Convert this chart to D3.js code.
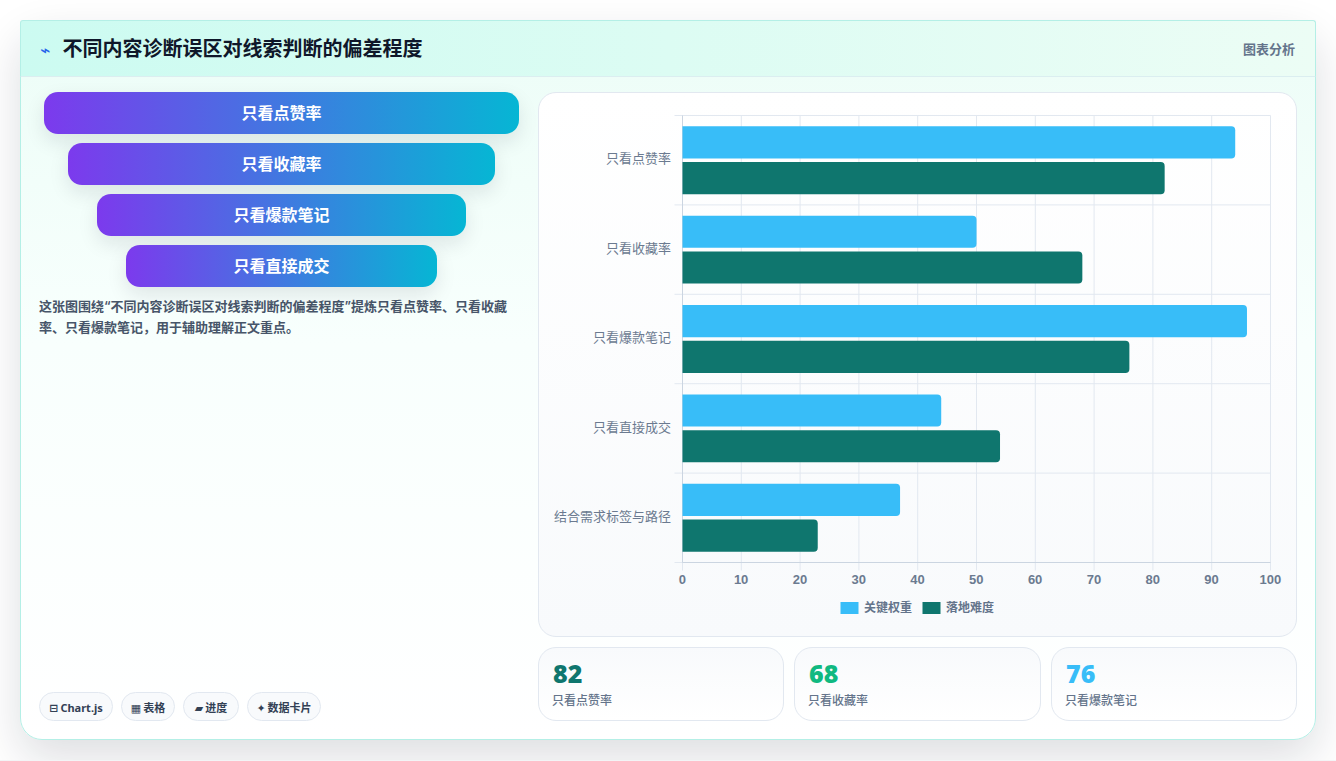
<!DOCTYPE html>
<html lang="zh">
<head>
<meta charset="utf-8">
<title>不同内容诊断误区对线索判断的偏差程度</title>
<script src="https://cdn.jsdelivr.net/npm/d3@7/dist/d3.min.js"></script>
<style>
  * { box-sizing: border-box; }
  html, body { margin: 0; width: 1336px; height: 761px; overflow: hidden; background: #f3f4f6; }
  body { font-family: "Noto Sans", "Noto Sans CJK SC", sans-serif; }
  .page { position: absolute; left: 0; top: 0; width: 1336px; height: 760px; overflow: hidden; background: #fff; }
  .card {
    position: absolute; left: 20px; top: 20px; width: 1296px; height: 720px;
    border: 1px solid #b4efe6; border-radius: 22px;
    background: linear-gradient(180deg, #ecfdf7 0%, #f8fffd 45%, #ffffff 100%);
  }
  .shadow {
    position: absolute; left: 20px; top: 20px; width: 1296px; height: 720px; border-radius: 22px;
    box-shadow: 0 18px 45px rgba(15, 23, 42, 0.14);
  }
  /* header sits over the card corners, it is not clipped */
  .head {
    position: absolute; left: -1px; top: -1px; right: -1px; height: 57px;
    background: linear-gradient(90deg, #ccfbf1, #ecfdf5);
    border: 1px solid #b4efe6; border-bottom-color: #dbeef0; border-radius: 3px 3px 0 0;
  }
  .title { position: absolute; left: 41.5px; top: 14px; font-size: 20px; line-height: 28px; font-weight: 700; color: #0f172a; white-space: nowrap; }
  .icon { position: absolute; left: 19px; top: 19px; font: 700 17px/20px "DejaVu Sans"; color: #2563eb; }
  .tag { position: absolute; right: 20px; top: 18px; font-size: 13px; line-height: 20px; font-weight: 600; color: #64748b; }
  .step {
    position: absolute; height: 42px; border-radius: 14px; color: #fff; text-align: center;
    font-size: 16px; line-height: 42px; font-weight: 700;
    background: linear-gradient(90deg, #7c3aed, #06b6d4);
    box-shadow: 0 8px 20px rgba(15, 23, 42, 0.10);
  }
  .desc { position: absolute; left: 18px; top: 275px; width: 480px; font-family: "Inter", "Noto Sans CJK SC", sans-serif; font-size: 13px; line-height: 20.8px; font-weight: 600; color: #475569; }
  .chip {
    position: absolute; top: 671px; height: 29px; border: 1px solid #e2e8f0; border-radius: 15px; background: #f8fafc;
    font-size: 11px; line-height: 29px; font-weight: 700; color: #334155; text-align: center; white-space: nowrap;
  }
  .chip i { font: 700 11px/27px "DejaVu Sans"; font-style: normal; margin-right: 2px; }
  .panel {
    position: absolute; left: 517px; top: 71px; width: 759px; height: 545px;
    border: 1px solid #e2e8f0; border-radius: 18px;
    background: linear-gradient(180deg, #ffffff, #f8fafc);
  }
  svg.chart { position: absolute; left: 0; top: 0; }
  .stat {
    position: absolute; top: 626px; height: 74px; border: 1px solid #e2e8f0; border-radius: 18px;
    background: linear-gradient(180deg, #f8fafc, #ffffff);
  }
  .stat b { position: absolute; left: 14px; top: 8px; font: 900 25px/34px "Noto Sans", "Open Sans", sans-serif; }
  .stat span { position: absolute; left: 13px; top: 44px; font-size: 12px; line-height: 18px; font-weight: 500; color: #64748b; white-space: nowrap; }
</style>
</head>
<body>
<div class="page">
  <div class="shadow"></div>
  <div class="card" id="card">
    <div class="head">
      <span class="icon">⌁</span>
      <div class="title">不同内容诊断误区对线索判断的偏差程度</div>
      <div class="tag">图表分析</div>
    </div>
    <div class="desc">这张图围绕“不同内容诊断误区对线索判断的偏差程度”提炼只看点赞率、只看收藏率、只看爆款笔记，用于辅助理解正文重点。</div>
    <div class="panel" id="panel"></div>
  </div>
</div>
<script>
// chart data
const categories = ["只看点赞率", "只看收藏率", "只看爆款笔记", "只看直接成交", "结合需求标签与路径"];
const keyWeight = [94, 50, 96, 44, 37];
const difficulty = [82, 68, 76, 54, 23];
const seriesNames = ["关键权重", "落地难度"];
const seriesColors = ["#38bdf8", "#0f766e"];
const xTicks = [0, 10, 20, 30, 40, 50, 60, 70, 80, 90, 100];

// funnel on the left
const funnelLabels = ["只看点赞率", "只看收藏率", "只看爆款笔记", "只看直接成交"];
const funnelShare = [100, 90, 77.7, 65.5];

// small cards + chips
const statValues = [82, 68, 76];
const statLabels = ["只看点赞率", "只看收藏率", "只看爆款笔记"];
const statColors = ["#0f766e", "#10b981", "#38bdf8"];
const chipIcons = ["⊟", "▦", "▰", "✦"];
const chipLabels = ["Chart.js", "表格", "进度", "数据卡片"];

const card = d3.select("#card");

const funnelW = d3.scaleLinear().domain([0, 100]).range([0, 475]);
card.selectAll(".step")
  .data(funnelLabels)
  .join("div")
    .attr("class", "step")
    .style("left", (d, i) => `${260.5 - funnelW(funnelShare[i]) / 2}px`)
    .style("top", (d, i) => `${71 + i * 51}px`)
    .style("width", (d, i) => `${funnelW(funnelShare[i])}px`)
    .text(d => d);

const chipX = [18, 100, 162, 226], chipW = [74, 54, 56, 74];
const chips = card.selectAll(".chip")
  .data(chipLabels)
  .join("div")
    .attr("class", "chip")
    .style("left", (d, i) => `${chipX[i]}px`)
    .style("width", (d, i) => `${chipW[i]}px`);
chips.append("i").text((d, i) => chipIcons[i]);
chips.append("span").text(d => d);

const statX = [517, 773, 1030], statW = [246, 247, 246];
const stats = card.selectAll(".stat")
  .data(statValues)
  .join("div")
    .attr("class", "stat")
    .style("left", (d, i) => `${statX[i]}px`)
    .style("width", (d, i) => `${statW[i]}px`);
stats.append("b").style("color", (d, i) => statColors[i]).text(d => d);
stats.append("span").text((d, i) => statLabels[i]);

// bar chart
const margin = {top: 22.5, right: 25.5, bottom: 73.5, left: 143.5},
    panelW = 757,
    panelH = 543,
    width = panelW - margin.left - margin.right,
    height = panelH - margin.top - margin.bottom;

const root = d3.select("#panel")
  .append("svg")
    .attr("class", "chart")
    .attr("width", panelW)
    .attr("height", panelH);
const svg = root.append("g")
    .attr("transform", `translate(${margin.left},${margin.top})`);

const x = d3.scaleLinear().domain([0, 100]).range([0, width]);
const y = d3.scaleBand().domain(categories).range([0, height]);
const inner = d3.scaleBand().domain([0, 1]).range([0, y.bandwidth() * 0.8]).paddingInner(0.1).paddingOuter(0.05);
const yOffset = y.bandwidth() * 0.1;

// grid
svg.append("g").selectAll("line")
  .data(xTicks)
  .join("line")
    .attr("x1", d => x(d)).attr("x2", d => x(d))
    .attr("y1", 0).attr("y2", height + 8)
    .attr("stroke", "#e2e8f0");
svg.append("g").selectAll("line")
  .data(d3.range(categories.length + 1))
  .join("line")
    .attr("x1", -8).attr("x2", width)
    .attr("y1", d => d * y.bandwidth()).attr("y2", d => d * y.bandwidth())
    .attr("stroke", "#e2e8f0");

svg.append("line").attr("x1", 0).attr("x2", 0).attr("y1", 0).attr("y2", height).attr("stroke", "#cbd5e1");
svg.append("line").attr("x1", 0).attr("x2", width).attr("y1", height).attr("y2", height).attr("stroke", "#cbd5e1");

// bars, only the right end is rounded
function barPath(v, top, h) {
  const r = 4, w = x(v);
  return `M0,${top}H${w - r}Q${w},${top} ${w},${top + r}V${top + h - r}Q${w},${top + h} ${w - r},${top + h}H0Z`;
}
[keyWeight, difficulty].forEach((values, s) => {
  svg.append("g")
    .selectAll("path")
    .data(values)
    .join("path")
      .attr("fill", seriesColors[s])
      .attr("d", (d, i) => barPath(d, y(categories[i]) + yOffset + inner(s), inner.bandwidth()));
});

// axes
const axisX = svg.append("g")
    .attr("transform", `translate(0,${height})`)
    .call(d3.axisBottom(x).tickValues(xTicks).tickSize(0).tickPadding(12));
axisX.select(".domain").remove();
axisX.selectAll("text")
    .attr("dx", -0.7)
    .style("font", "700 13px 'Liberation Sans', sans-serif")
    .attr("fill", "#6b7a90");

const axisY = svg.append("g")
    .call(d3.axisLeft(y).tickSize(0).tickPadding(11.5));
axisY.select(".domain").remove();
axisY.selectAll("text")
    .attr("dy", 3.2)
    .style("font", "400 13px 'Liberation Sans', 'Noto Sans CJK SC', sans-serif")
    .attr("fill", "#6b7a90");

// legend
const legendX = [301.5, 383.5];
const legend = root.append("g")
  .selectAll("g")
  .data(seriesNames)
  .join("g")
    .attr("transform", (d, i) => `translate(${legendX[i]},509)`);
legend.append("rect")
    .attr("width", 18).attr("height", 12)
    .attr("fill", (d, i) => seriesColors[i]);
legend.append("text")
    .attr("x", 23.5).attr("y", 9.5)
    .style("font", "600 12px 'Liberation Sans', 'Noto Sans CJK SC', sans-serif")
    .attr("fill", "#64748b")
    .text(d => d);
</script>
</body>
</html>
